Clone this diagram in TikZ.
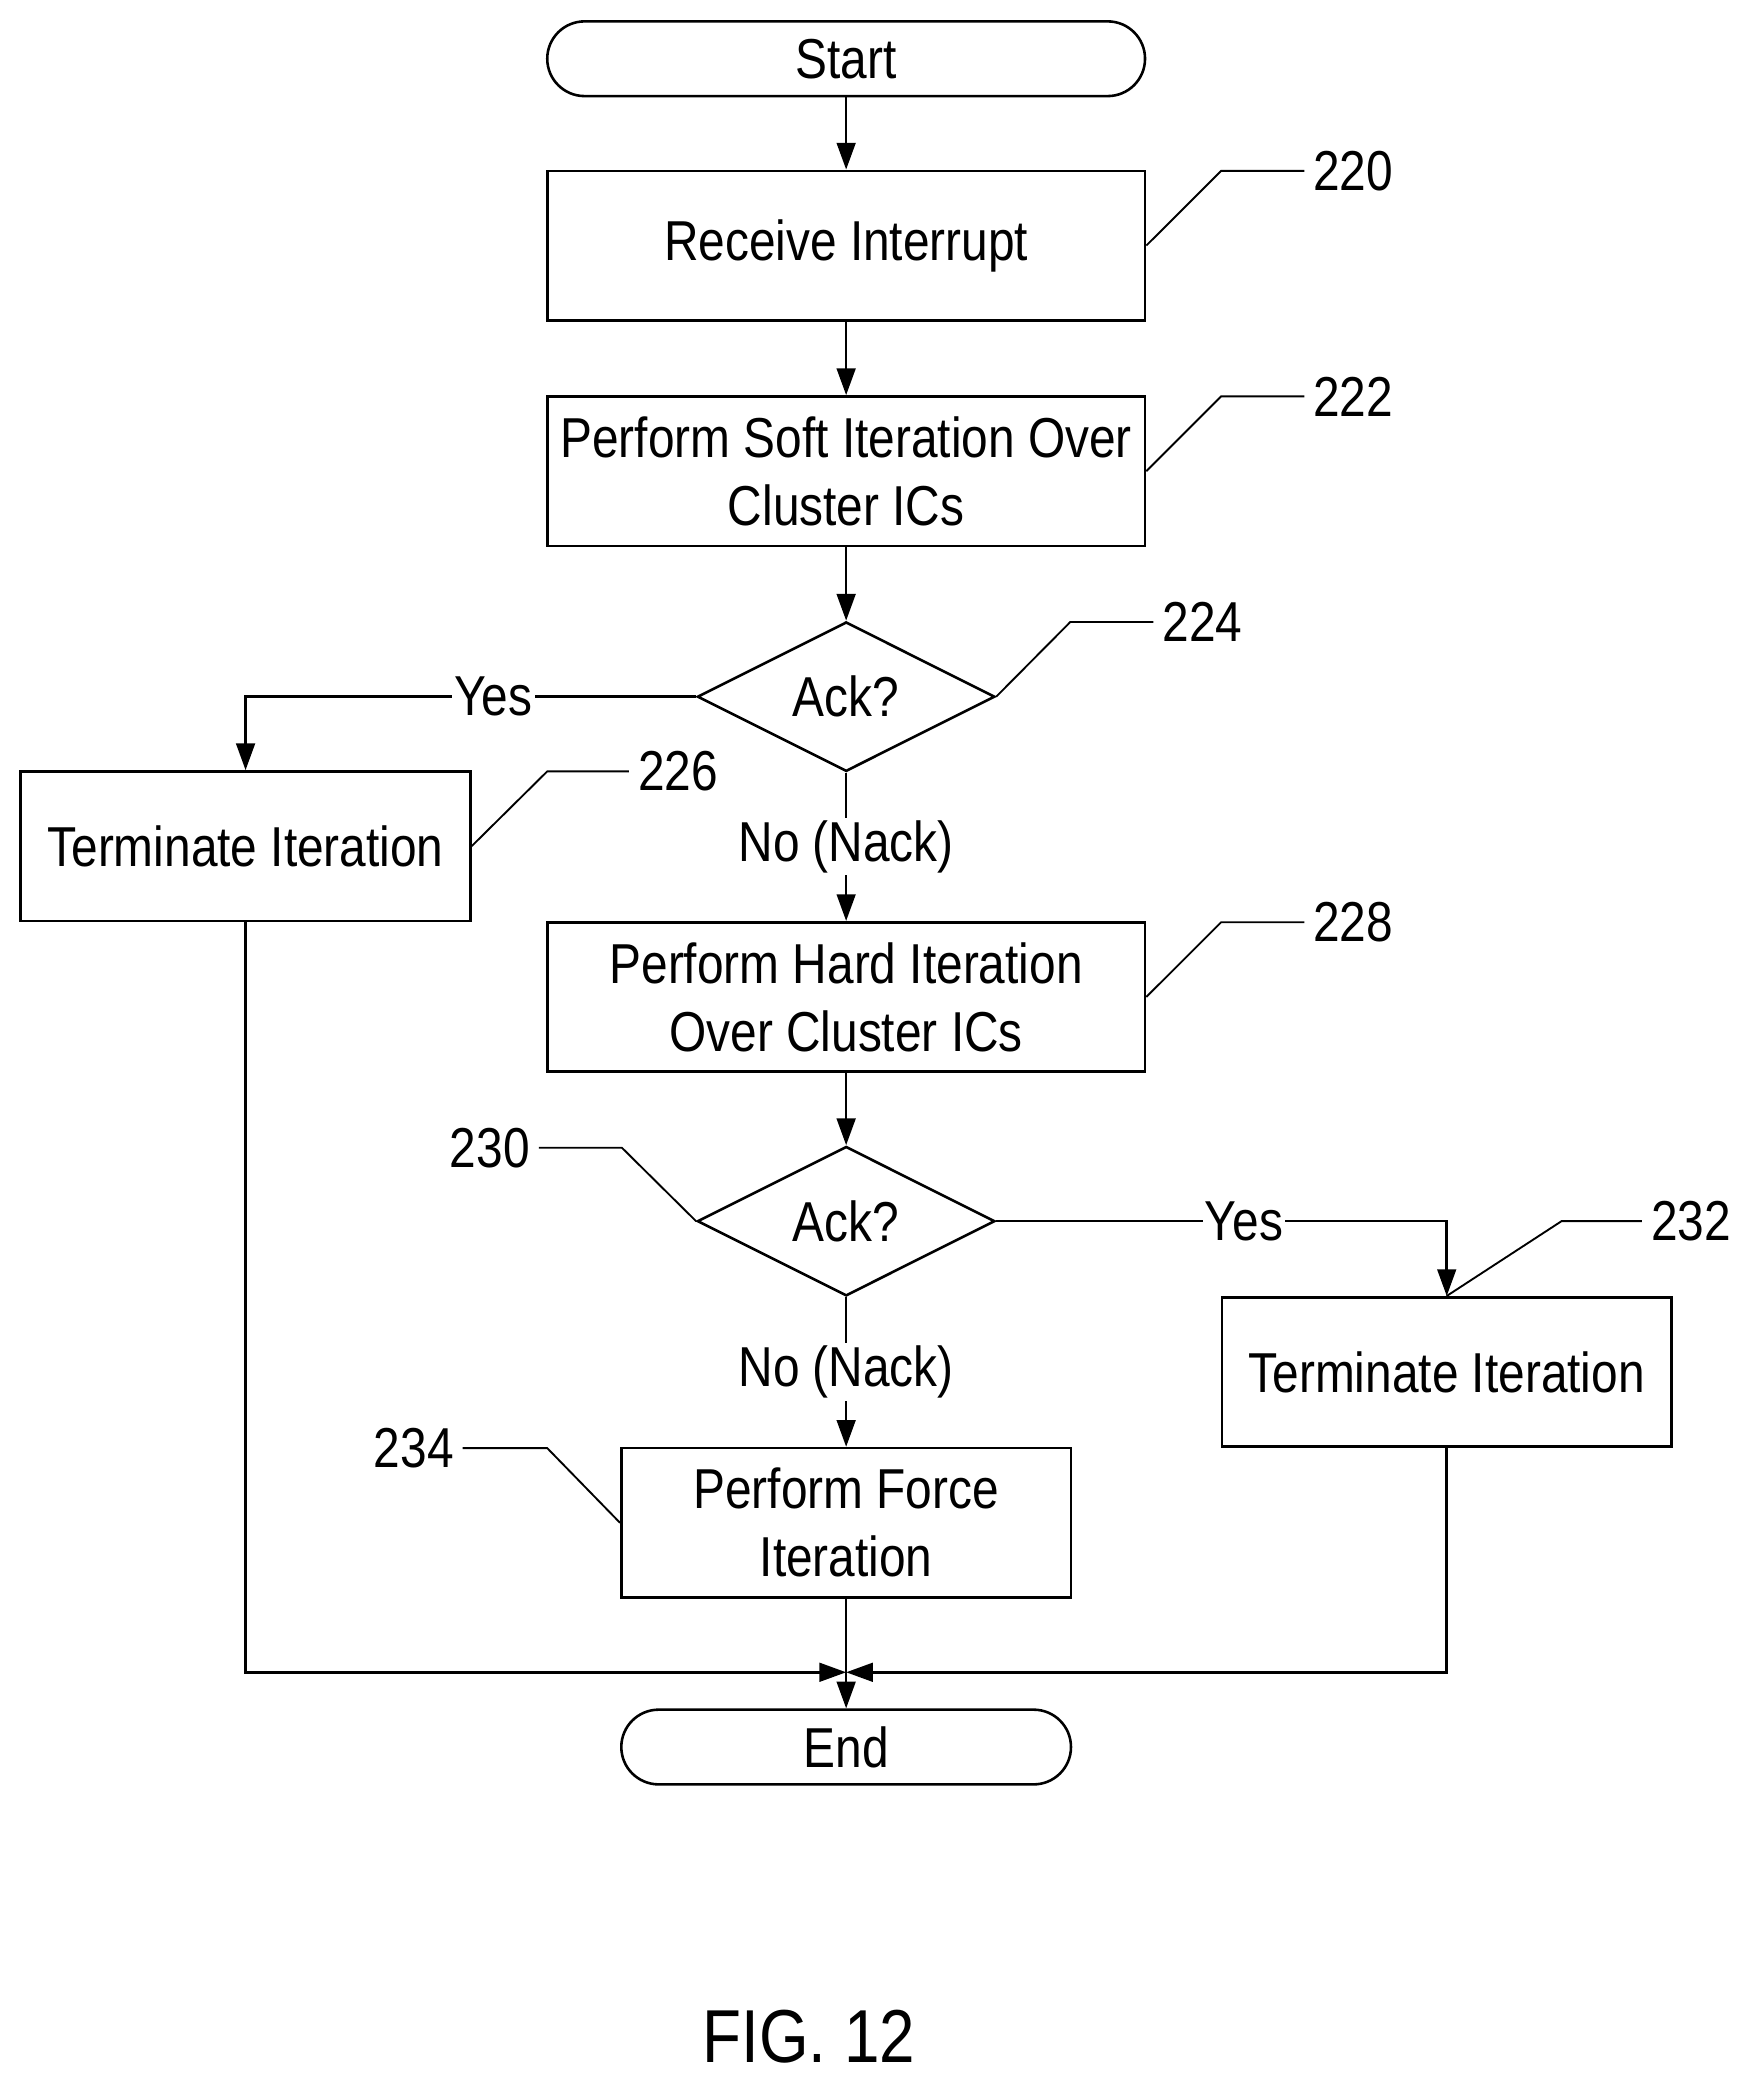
\documentclass[tikz,border=0pt]{standalone}
\usepackage{fontspec}
\setmainfont{Liberation Sans}[FakeStretch=0.85]
\usetikzlibrary{arrows.meta,shapes.geometric}

\begin{document}
\begin{tikzpicture}[x=0.02cm,y=-0.02cm,>={Triangle[length=0.4cm,width=0.28cm]},line width=1.1pt,font=\fontsize{24}{29}\selectfont]
  \tikzstyle{proc}=[draw,rectangle,minimum width=8.96cm,minimum height=2.24cm,inner sep=0pt,align=center]
  \tikzstyle{small proc}=[proc,minimum width=6.74cm]
  \tikzstyle{term}=[draw,rounded corners=0.56cm,minimum height=1.12cm,inner sep=0pt]
  \tikzstyle{ask}=[draw,diamond,minimum width=4.46cm,minimum height=2.24cm,inner sep=0pt]
  \tikzstyle{lead}=[line width=0.8pt]
  \useasboundingbox (0,0) rectangle (1310,1566);

  \node[term,minimum width=8.96cm] (S) at (634,44) {Start};
  \node[proc]       (RI)  at (634,184)  {Receive Interrupt};
  \node[proc]       (SI)  at (634,353)  {Perform Soft Iteration Over\\Cluster ICs};
  \node[ask]        (A1)  at (634,522)  {Ack?};
  \node[small proc] (T1)  at (184,634)  {Terminate Iteration};
  \node[proc]       (HI)  at (634,747)  {Perform Hard Iteration\\Over Cluster ICs};
  \node[ask]        (A2)  at (634,915)  {Ack?};
  \node[small proc] (T2)  at (1084,1028) {Terminate Iteration};
  \node[small proc] (FI)  at (634,1141) {Perform Force\\Iteration};
  \node[term,minimum width=6.74cm] (E) at (634,1309) {End};
  \coordinate (M) at (634,1253);

  % flow
  \path[->]
        (S)  edge (RI)
        (RI) edge (SI)
        (SI) edge (A1)
        (A1) edge node[fill=white,inner sep=1pt] {No (Nack)} (HI)
        (HI) edge (A2)
        (A2) edge node[fill=white,inner sep=1pt] {No (Nack)} (FI)
        (FI) edge (E);
  \draw[->] (A1.west) -- node[fill=white,inner sep=1pt,pos=0.45] {Yes} (T1.north |- A1.west) -- (T1.north);
  \draw[->] (A2.east) -- node[fill=white,inner sep=1pt,pos=0.55] {Yes} (T2.north |- A2.east) -- (T2.north);
  \draw[->] (T1.south) |- (M);
  \draw[->] (T2.south) |- (M);

  % reference numerals
  \node (n220) at (1014,128) {220};
  \node (n222) at (1014,297) {222};
  \node (n224) at (901,466)  {224};
  \node (n226) at (508,578)  {226};
  \node (n228) at (1014,691) {228};
  \node (n230) at (367,860)  {230};
  \node (n232) at (1267,915) {232};
  \node (n234) at (310,1085) {234};
  \draw[lead] (RI.east) -- (915,128) -- (n220.west);
  \draw[lead] (SI.east) -- (915,297) -- (n222.west);
  \draw[lead] (A1.east) -- (802,466) -- (n224.west);
  \draw[lead] (T1.east) -- (410,578) -- (n226.west);
  \draw[lead] (HI.east) -- (915,691) -- (n228.west);
  \draw[lead] (A2.west) -- (466,860) -- (n230.east);
  \draw[lead] (T2.north) -- (1170,915) -- (n232.west);
  \draw[lead] (FI.west) -- (410,1085) -- (n234.east);

  \node[font=\fontsize{32}{38}\selectfont] (fig) at (606,1526) {FIG. 12};
\end{tikzpicture}
\end{document}
